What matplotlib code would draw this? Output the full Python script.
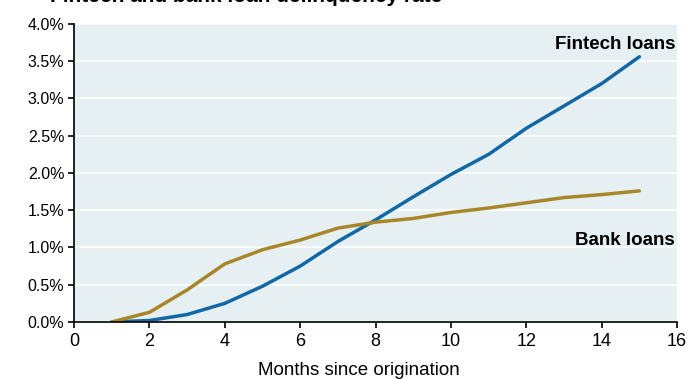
import matplotlib
matplotlib.use("Agg")
from matplotlib import pyplot as plt
from matplotlib.ticker import FuncFormatter

plt.rcParams["font.family"] = ["Liberation Sans", "DejaVu Sans"]

months = [1, 2, 3, 4, 5, 6, 7, 8, 9, 10, 11, 12, 13, 14, 15]
fintech = [0.0, 0.02, 0.10, 0.25, 0.48, 0.75, 1.08, 1.37, 1.68, 1.98, 2.25, 2.60, 2.90, 3.20, 3.56]
bank = [0.0, 0.13, 0.43, 0.78, 0.97, 1.10, 1.26, 1.34, 1.39, 1.47, 1.53, 1.60, 1.67, 1.71, 1.76]

fig = plt.figure(figsize=(6.88, 3.79), dpi=100)
ax = fig.add_axes([0.1076, 0.1504, 0.8765, 0.7863])
ax.set_facecolor("#E6EFF2")

ax.plot(months, fintech, color="#1268A4", linewidth=2.5, solid_capstyle="round")
ax.plot(months, bank, color="#A8862A", linewidth=2.5, solid_capstyle="round")

ax.set_xlim(0, 16)
ax.set_ylim(0, 4.0)
ax.set_xticks(range(0, 17, 2))
ax.set_yticks([i * 0.5 for i in range(9)])
ax.yaxis.set_major_formatter(FuncFormatter(lambda v, p: f"{v:.1f}%"))
ax.tick_params(direction="out", length=4, width=1.2, colors="black")
ax.tick_params(axis="y", labelsize=11.5, pad=3)
ax.tick_params(axis="x", labelsize=13, pad=4)
ax.grid(axis="y", color="white", linewidth=1.2)
ax.set_axisbelow(True)
for s in ["top", "right"]:
    ax.spines[s].set_visible(False)
for s in ["left", "bottom"]:
    ax.spines[s].set_linewidth(1.2)

ax.set_xlabel("Months since origination", fontsize=13.5)
ax.xaxis.set_label_coords(0.473, -0.162)
ax.xaxis.label.set_va("center")

ax.text(15.95, 3.73, "Fintech loans", ha="right", va="center", fontsize=13.5, fontweight="bold")
ax.text(15.95, 1.10, "Bank loans", ha="right", va="center", fontsize=13.5, fontweight="bold")

fig.text(0.073, 0.996, "Fintech and bank loan delinquency rate", fontsize=15,
         fontweight="bold", va="baseline")

fig.savefig("out.png", dpi=100)
